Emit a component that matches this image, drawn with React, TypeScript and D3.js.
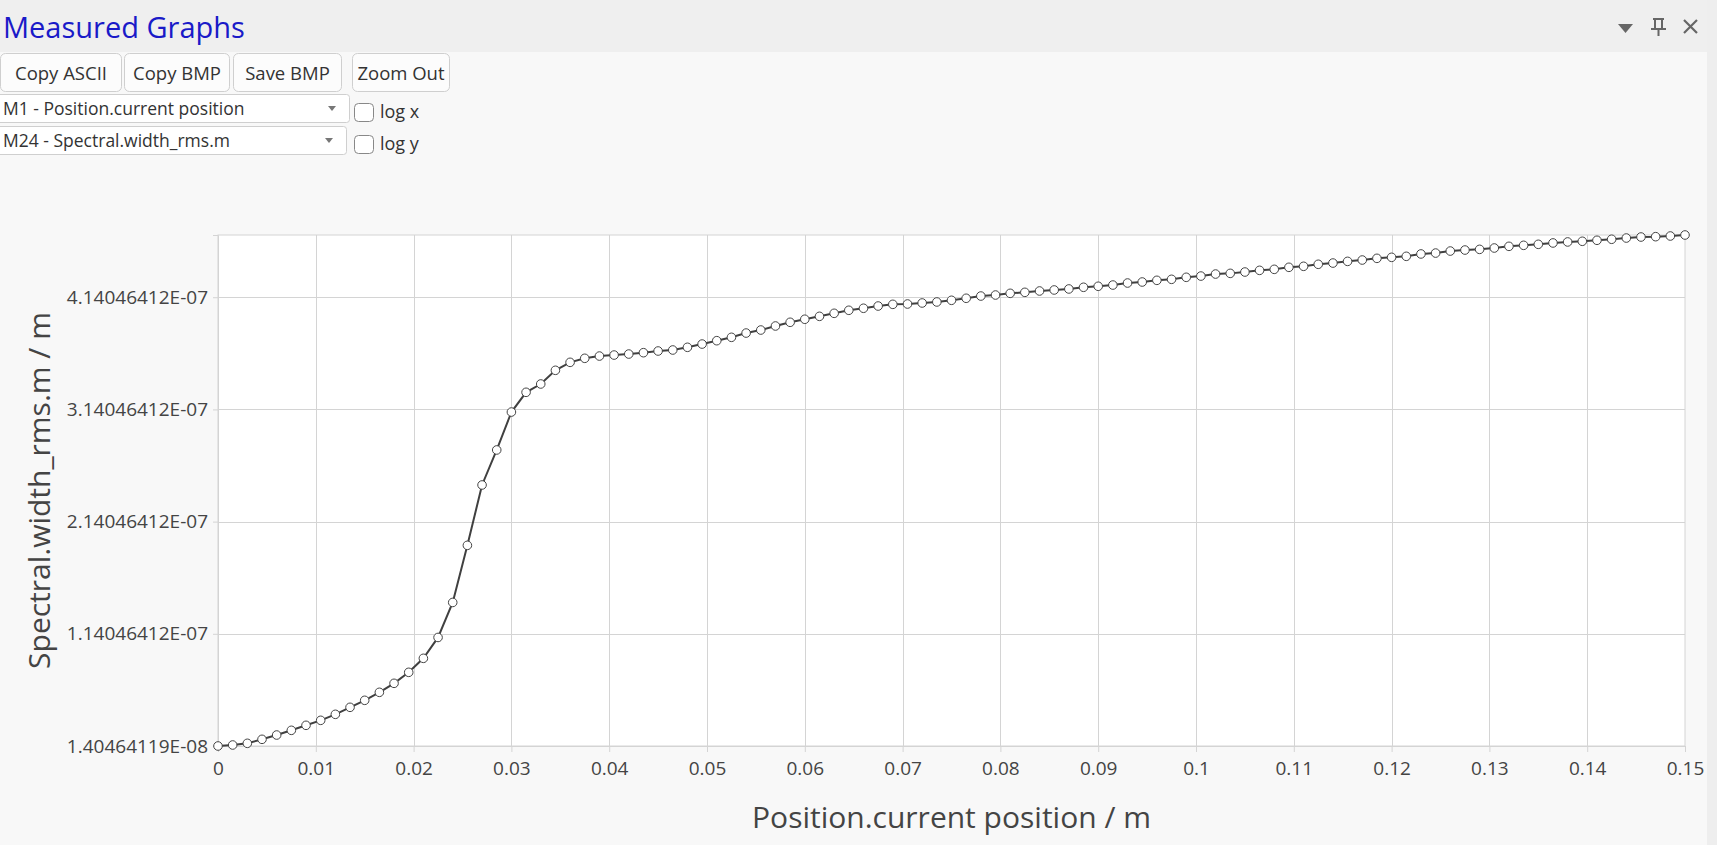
import * as d3 from "d3";
import { useEffect, useRef } from "react";

// measured points: position in m, width in units of 1e-7 m
const positions = [
  0, 0.0015, 0.003, 0.0045, 0.006, 0.0075, 0.009, 0.0105, 0.012, 0.0135,
  0.015, 0.0165, 0.018, 0.0195, 0.021, 0.0225, 0.024, 0.0255, 0.027, 0.0285,
  0.03, 0.0315, 0.033, 0.0345, 0.036, 0.0375, 0.039, 0.0405, 0.042, 0.0435,
  0.045, 0.0465, 0.048, 0.0495, 0.051, 0.0525, 0.054, 0.0555, 0.057, 0.0585,
  0.06, 0.0615, 0.063, 0.0645, 0.066, 0.0675, 0.069, 0.0705, 0.072, 0.0735,
  0.075, 0.0765, 0.078, 0.0795, 0.081, 0.0825, 0.084, 0.0855, 0.087, 0.0885,
  0.09, 0.0915, 0.093, 0.0945, 0.096, 0.0975, 0.099, 0.1005, 0.102, 0.1035,
  0.105, 0.1065, 0.108, 0.1095, 0.111, 0.1125, 0.114, 0.1155, 0.117, 0.1185,
  0.12, 0.1215, 0.123, 0.1245, 0.126, 0.1275, 0.129, 0.1305, 0.132, 0.1335,
  0.135, 0.1365, 0.138, 0.1395, 0.141, 0.1425, 0.144, 0.1455, 0.147, 0.1485,
  0.15,
];

const widthRms = [
  0.140464119, 0.1494, 0.1643, 0.2, 0.2383, 0.2802, 0.3248, 0.3693, 0.4228, 0.4852,
  0.5476, 0.6189, 0.6991, 0.7971, 0.9219, 1.108, 1.42, 1.929, 2.467, 2.779,
  3.117, 3.293, 3.367, 3.489, 3.56, 3.596, 3.616, 3.625, 3.634, 3.646,
  3.661, 3.67, 3.694, 3.723, 3.753, 3.783, 3.821, 3.848, 3.884, 3.917,
  3.944, 3.97, 3.997, 4.024, 4.042, 4.062, 4.077, 4.08, 4.089, 4.098,
  4.113, 4.131, 4.151, 4.16, 4.175, 4.184, 4.196, 4.205, 4.214, 4.229,
  4.238, 4.249, 4.267, 4.276, 4.291, 4.3, 4.318, 4.329, 4.347, 4.353,
  4.365, 4.38, 4.389, 4.407, 4.416, 4.434, 4.445, 4.46, 4.472, 4.487,
  4.496, 4.505, 4.526, 4.534, 4.552, 4.561, 4.567, 4.579, 4.594, 4.603,
  4.612, 4.624, 4.633, 4.639, 4.648, 4.657, 4.668, 4.677, 4.68, 4.686,
  4.695,
];

const xTicks = [0, 0.01, 0.02, 0.03, 0.04, 0.05, 0.06, 0.07, 0.08, 0.09, 0.1, 0.11, 0.12, 0.13, 0.14, 0.15];
const xTickLabels = ["0", "0.01", "0.02", "0.03", "0.04", "0.05", "0.06", "0.07", "0.08", "0.09", "0.1", "0.11", "0.12", "0.13", "0.14", "0.15"];
const yTicks = [1.40464119e-8, 1.14046412e-7, 2.14046412e-7, 3.14046412e-7, 4.14046412e-7];
const yTickLabels = ["1.40464119E-08", "1.14046412E-07", "2.14046412E-07", "3.14046412E-07", "4.14046412E-07"];

const title = "Measured Graphs";
const buttons = ["Copy ASCII", "Copy BMP", "Save BMP", "Zoom Out"];
const selectors = ["M1 - Position.current position", "M24 - Spectral.width_rms.m"];
const logLabels = ["log x", "log y"];
const xLabel = "Position.current position / m";
const yLabel = "Spectral.width_rms.m / m";

const W = 1717;
const H = 845;
const FONT = "'Open Sans', 'Noto Sans', sans-serif";

export default function App() {
  const ref = useRef<SVGSVGElement | null>(null);

  useEffect(() => {
    if (!ref.current) return;
    const svg = d3.select(ref.current);
    svg.selectAll("*").remove();
    svg.attr("width", W).attr("height", H).style("font-family", FONT);

    // panel background
    svg.append("rect").attr("width", W).attr("height", H).attr("fill", "#f8f8f8");
    svg.append("rect").attr("width", W).attr("height", 52).attr("fill", "#efefef");
    svg.append("rect").attr("x", 1707).attr("width", 10).attr("height", H).attr("fill", "#eeeeee");

    svg
      .append("text")
      .attr("x", 3)
      .attr("y", 38)
      .attr("font-size", 29)
      .attr("fill", "#1a1ac8")
      .text(title);

    // header icons
    const icons = svg.append("g").attr("fill", "#666").attr("stroke", "#666");
    icons.append("path").attr("d", "M1618,24 L1633,24 L1625.5,33 Z").attr("stroke", "none");
    icons.append("path").attr("d", "M1653,19 L1664,19 M1655,19 L1655,29 M1662,19 L1662,29 M1651,29 L1666,29 M1658.5,29 L1658.5,36").attr("stroke-width", 2).attr("fill", "none");
    icons.append("path").attr("d", "M1684,20 L1697,33 M1697,20 L1684,33").attr("stroke-width", 2.2).attr("fill", "none");

    // toolbar buttons
    const btnX = [0, 124, 233, 352];
    const btnW = [122, 106, 109, 98];
    buttons.forEach((b, i) => {
      svg
        .append("rect")
        .attr("x", btnX[i] + 0.5)
        .attr("y", 53.5)
        .attr("width", btnW[i] - 1)
        .attr("height", 38)
        .attr("rx", 5)
        .attr("fill", "#fcfcfc")
        .attr("stroke", "#cfcfcf");
      svg
        .append("text")
        .attr("x", btnX[i] + btnW[i] / 2)
        .attr("y", 80)
        .attr("text-anchor", "middle")
        .attr("font-size", 18.5)
        .attr("fill", "#333")
        .text(b);
    });

    // series selectors with log checkboxes
    const selY = [94, 126];
    const selW = [350, 347];
    selectors.forEach((s, i) => {
      const y0 = selY[i];
      svg
        .append("rect")
        .attr("x", -4)
        .attr("y", y0 + 0.5)
        .attr("width", selW[i] + 3.5)
        .attr("height", 28)
        .attr("rx", 3)
        .attr("fill", "#ffffff")
        .attr("stroke", "#cfcfcf");
      svg
        .append("text")
        .attr("x", 3)
        .attr("y", y0 + 21)
        .attr("font-size", 17.5)
        .attr("fill", "#333")
        .text(s);
      svg
        .append("path")
        .attr("d", `M${selW[i] - 22},${y0 + 12} L${selW[i] - 14},${y0 + 12} L${selW[i] - 18},${y0 + 17} Z`)
        .attr("fill", "#777");
      svg
        .append("rect")
        .attr("x", 354.5)
        .attr("y", y0 + 9.5)
        .attr("width", 19)
        .attr("height", 18)
        .attr("rx", 4)
        .attr("fill", "#ffffff")
        .attr("stroke", "#888");
      svg
        .append("text")
        .attr("x", 380)
        .attr("y", y0 + 24)
        .attr("font-size", 18)
        .attr("fill", "#333")
        .text(logLabels[i]);
    });

    // chart
    const left = 218;
    const right = 1685;
    const top = 235;
    const bottom = 746;
    const values = widthRms.map((v) => v * 1e-7);

    const x = d3.scaleLinear().domain([0, 0.15]).range([left, right]);
    const y = d3
      .scaleLinear()
      .domain([values[0], d3.max(values)!])
      .range([bottom, top]);

    svg
      .append("rect")
      .attr("x", left)
      .attr("y", top)
      .attr("width", right - left)
      .attr("height", bottom - top)
      .attr("fill", "#ffffff")
      .attr("stroke", "#d4d4d4");

    const gx = svg
      .append("g")
      .attr("transform", `translate(0,${bottom})`)
      .call(
        d3
          .axisBottom(x)
          .tickValues(xTicks)
          .tickFormat((_, i) => xTickLabels[i])
          .tickSize(6)
          .tickPadding(10)
      );
    gx.select(".domain").attr("stroke", "#d4d4d4");
    gx.selectAll(".tick line").attr("stroke", "#d4d4d4");
    gx.selectAll(".tick text").attr("font-size", 19).attr("fill", "#444").attr("font-family", FONT);

    const gy = svg
      .append("g")
      .attr("transform", `translate(${left},0)`)
      .call(
        d3
          .axisLeft(y)
          .tickValues(yTicks)
          .tickFormat((_, i) => yTickLabels[i])
          .tickSize(5)
          .tickPadding(5)
      );
    gy.select(".domain").attr("stroke", "#d4d4d4");
    gy.selectAll(".tick line").attr("stroke", "#d4d4d4");
    gy.selectAll(".tick text").attr("font-size", 19).attr("fill", "#444").attr("font-family", FONT);

    // grid
    const grid = svg.append("g").attr("stroke", "#d4d4d4").attr("stroke-width", 1);
    grid
      .selectAll("line.vx")
      .data(xTicks.slice(1, -1))
      .enter()
      .append("line")
      .attr("x1", (d) => Math.round(x(d)) + 0.5)
      .attr("x2", (d) => Math.round(x(d)) + 0.5)
      .attr("y1", top)
      .attr("y2", bottom);
    grid
      .selectAll("line.hy")
      .data(yTicks.slice(1))
      .enter()
      .append("line")
      .attr("x1", left)
      .attr("x2", right)
      .attr("y1", (d) => Math.round(y(d)) + 0.5)
      .attr("y2", (d) => Math.round(y(d)) + 0.5);

    const pts = positions.map((p, i) => [p, values[i]] as [number, number]);
    const line = d3
      .line<[number, number]>()
      .x((d) => x(d[0]))
      .y((d) => y(d[1]));

    svg
      .append("path")
      .datum(pts)
      .attr("d", line)
      .attr("fill", "none")
      .attr("stroke", "#404040")
      .attr("stroke-width", 2);

    svg
      .append("g")
      .selectAll("circle")
      .data(pts)
      .enter()
      .append("circle")
      .attr("cx", (d) => x(d[0]))
      .attr("cy", (d) => y(d[1]))
      .attr("r", 4.3)
      .attr("fill", "#ffffff")
      .attr("stroke", "#444")
      .attr("stroke-width", 1);

    // axis titles
    svg
      .append("text")
      .attr("x", (left + right) / 2)
      .attr("y", 828)
      .attr("text-anchor", "middle")
      .attr("font-size", 30)
      .attr("fill", "#444")
      .text(xLabel);
    svg
      .append("text")
      .attr("transform", `translate(50,${(top + bottom) / 2}) rotate(-90)`)
      .attr("text-anchor", "middle")
      .attr("font-size", 30)
      .attr("fill", "#444")
      .text(yLabel);
  }, []);

  return (
    <div style={{ position: "absolute", left: 0, top: 0, width: W, height: H, overflow: "hidden" }}>
      <svg ref={ref} style={{ display: "block" }}></svg>
    </div>
  );
}
